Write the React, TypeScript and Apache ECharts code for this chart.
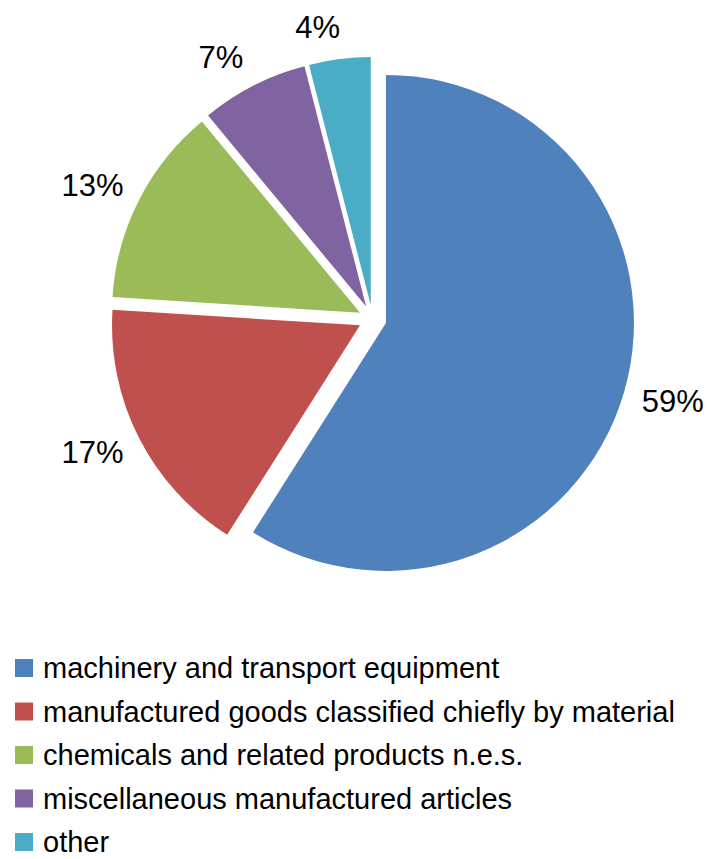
import React, { useEffect, useRef } from "react";
import * as echarts from "echarts";

const categories = [
  "machinery and transport equipment",
  "manufactured goods classified chiefly by material",
  "chemicals and related products n.e.s.",
  "miscellaneous manufactured articles",
  "other",
];
const shares = [59, 17, 13, 7, 4];
const colors = ["#4F81BD", "#C0504D", "#9BBB59", "#8064A2", "#4BACC6"];

export default function App() {
  const ref = useRef<HTMLDivElement>(null);
  useEffect(() => {
    document.body.style.margin = "0";
    const chart = echarts.init(ref.current!, null, { renderer: "svg" });
    const font = "'Liberation Sans', Arial, sans-serif";
    chart.setOption({
      animation: false,
      color: colors,
      legend: {
        orient: "vertical",
        left: 15,
        top: 653,
        padding: 0,
        itemWidth: 18,
        itemHeight: 18,
        itemGap: 13.5,
        icon: "rect",
        selectedMode: false,
        data: categories,
        textStyle: {
          fontFamily: font,
          fontSize: 29,
          lineHeight: 30,
          color: "#000",
          padding: [0, 0, 0, 5],
        },
      },
      series: [
        {
          type: "pie",
          center: [372.5, 319],
          radius: [0, 248],
          startAngle: 90,
          clockwise: true,
          selectedMode: "multiple",
          selectedOffset: 14,
          avoidLabelOverlap: false,
          emphasis: { disabled: true },
          label: {
            show: true,
            position: "outside",
            formatter: "{c}%",
            fontFamily: font,
            fontSize: 31,
            color: "#000",
          },
          labelLine: {
            show: true,
            length: 32,
            length2: 13,
            lineStyle: { opacity: 0, width: 0 },
          },
          labelLayout: () => ({ align: "center", verticalAlign: "middle" }),
          data: categories.map((name, i) => ({
            name,
            value: shares[i],
            selected: true,
            itemStyle: { color: colors[i] },
            select: { itemStyle: { color: colors[i] } },
          })),
        },
      ],
    });
    return () => chart.dispose();
  }, []);
  return <div ref={ref} style={{ width: 711, height: 859 }} />;
}
